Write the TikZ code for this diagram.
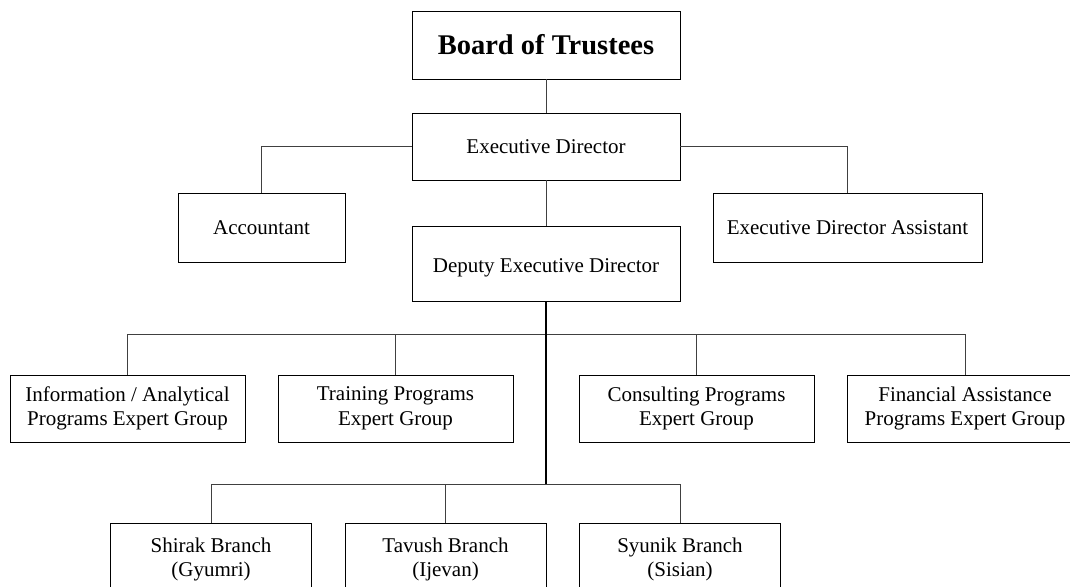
\documentclass[tikz,border=0pt]{standalone}
\usepackage{fontspec}
\setmainfont{Liberation Serif}
\begin{document}
\begin{tikzpicture}[x=1pt,y=-1pt,
  box/.style={draw=black,line width=0.9pt,rectangle,inner sep=0pt,align=center,
    font=\fontsize{21}{24.5}\selectfont},
  link/.style={draw=black!75,line width=1pt},
  trunk/.style={draw=black,line width=2pt}]
\clip (0,0) rectangle (1070,586);
\fill[white] (0,0) rectangle (1070,586);

% top of the chart
\node[box,minimum width=268pt,minimum height=68pt,font=\fontsize{28.5}{32}\selectfont\bfseries]
  (board) at (546,45) {Board of Trustees};
\node[box,minimum width=268pt,minimum height=67pt] (ed) at (546,146.5) {Executive Director};
\node[box,minimum width=167pt,minimum height=69pt] (acc) at (261.5,227.5) {Accountant};
\node[box,minimum width=269pt,minimum height=69pt] (eda) at (847.5,227.5) {Executive Director Assistant};
\node[box,minimum width=268pt,minimum height=75pt,text height=22pt,text depth=5pt]
  (dep) at (546,263.5) {Deputy Executive Director};

% expert groups
\node[box,minimum width=235pt,minimum height=67pt] (info) at (127.5,408.5) {Information / Analytical\\Programs Expert Group};
\node[box,minimum width=235pt,minimum height=67pt] (train) at (395.5,408.5) {Training Programs\\Expert Group};
\node[box,minimum width=235pt,minimum height=67pt] (cons) at (696.5,408.5) {Consulting Programs\\Expert Group};
\node[box,minimum width=236pt,minimum height=67pt] (fin) at (965,408.5) {Financial Assistance\\Programs Expert Group};

% branches
\node[box,minimum width=201pt,minimum height=72pt,anchor=north] (shirak) at (211,523) {Shirak Branch\\(Gyumri)};
\node[box,minimum width=201pt,minimum height=72pt,anchor=north] (tavush) at (445.5,523) {Tavush Branch\\(Ijevan)};
\node[box,minimum width=201pt,minimum height=72pt,anchor=north] (syunik) at (680,523) {Syunik Branch\\(Sisian)};

% bus levels
\coordinate (busA) at (546,334);
\coordinate (busB) at (546,484);

% connectors
\draw[link] (board.south) -- (ed.north);
\draw[link] (ed.west) -| (acc.north);
\draw[link] (ed.east) -| (eda.north);
\draw[link] (ed.south) -- (dep.north);
\draw[link] (info.north) |- (fin.north |- busA) -- (fin.north);
\draw[link] (train.north) -- (train.north |- busA);
\draw[link] (cons.north) -- (cons.north |- busA);
\draw[link] (shirak.north) |- (syunik.north |- busB) -- (syunik.north);
\draw[link] (tavush.north) -- (tavush.north |- busB);
\draw[trunk] (dep.south) -- (busB);
\end{tikzpicture}
\end{document}
